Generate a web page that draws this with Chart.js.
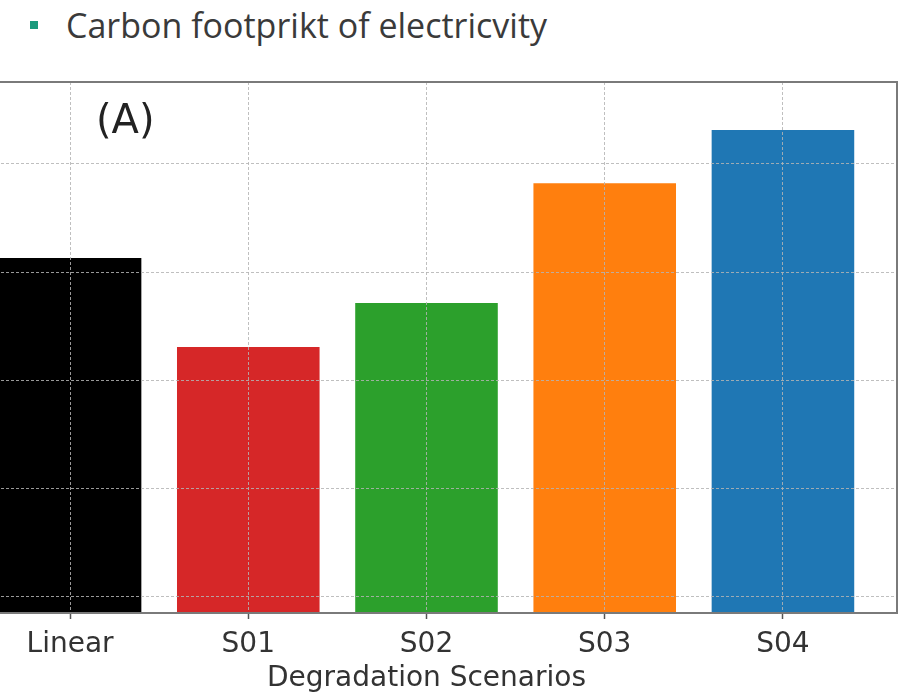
<!DOCTYPE html>
<html>
<head>
<meta charset="utf-8">
<script src="https://cdn.jsdelivr.net/npm/chart.js@4.4.1/dist/chart.umd.min.js"></script>
<style>
  html, body { margin: 0; padding: 0; background: #ffffff; }
  body { width: 914px; height: 694px; position: relative; overflow: hidden; }
  #heading {
    position: absolute; left: 66px; top: 1px;
    font-family: "Open Sans", "Noto Sans", sans-serif; font-size: 34px;
    color: #3a3a3a; white-space: nowrap; line-height: 48px;
  }
  #bullet {
    position: absolute; left: 30px; top: 21px; width: 8px; height: 8px;
    background: #1a9a7c;
  }
  #panel {
    position: absolute; left: 96px; top: 94px;
    font-family: "DejaVu Sans", sans-serif; font-size: 40px; color: #222;
    line-height: 50px; z-index: 2;
  }
  #wrap { position: absolute; left: -50px; top: 0; width: 964px; height: 694px; }
</style>
</head>
<body>
<div id="bullet"></div>
<div id="heading">Carbon footprikt of electricvity</div>
<div id="panel">(A)</div>
<div id="wrap"><canvas id="chart"></canvas></div>
<script>
// Degradation scenarios and their electricity carbon footprint
const scenarios = ["Linear", "S01", "S02", "S03", "S04"];
const footprint = [35.65, 31.54, 33.57, 39.11, 41.56];
const barColors = ["#000000", "#d62728", "#2ca02c", "#ff7f0e", "#1f77b4"];
const yGridValues = [20, 25, 30, 35, 40];
const xLabel = "Degradation Scenarios";

const gridColor = "rgba(180,180,180,0.85)";

// Draws the full box around the plot area (matplotlib-style spines)
const frame = {
  id: "frame",
  afterDraw(chart) {
    const { ctx, chartArea: a } = chart;
    ctx.save();
    ctx.strokeStyle = "#7a7a7a";
    ctx.lineWidth = 2;
    ctx.strokeRect(a.left, a.top, a.right - a.left, a.bottom - a.top);
    ctx.restore();
  }
};

new Chart(document.getElementById("chart"), {
  type: "bar",
  data: {
    datasets: [{
      data: scenarios.map((s, i) => ({ x: i, y: footprint[i] })),
      backgroundColor: barColors,
      borderWidth: 0,
      categoryPercentage: 0.8,
      barPercentage: 1.0
    }]
  },
  options: {
    responsive: true,
    maintainAspectRatio: false,
    animation: false,
    layout: { padding: { left: 6, right: 17, top: 82, bottom: 0 } },
    plugins: { legend: { display: false }, tooltip: { enabled: false } },
    scales: {
      x: {
        type: "linear",
        min: -0.64,
        max: 4.64,
        offset: false,
        afterBuildTicks: s => { s.ticks = scenarios.map((_, i) => ({ value: i })); },
        afterFit: s => { s.height = 81; },
        ticks: {
          callback: v => scenarios[v],
          font: { family: "DejaVu Sans", size: 28 },
          color: "#333333",
          padding: 9,
          maxRotation: 0,
          autoSkip: false
        },
        grid: {
          z: 1,
          offset: false,
          color: gridColor,
          lineWidth: 1,
          drawTicks: true,
          tickLength: 6,
          tickColor: "#555555",
          tickWidth: 1.5,
          tickBorderDash: []
        },
        border: { display: false, dash: [3, 2] },
        title: {
          display: true,
          text: xLabel,
          font: { family: "DejaVu Sans", size: 28 },
          color: "#333333",
          padding: { top: 0, bottom: -2 }
        }
      },
      y: {
        min: 19.26,
        max: 43.78,
        afterBuildTicks: s => { s.ticks = yGridValues.map(v => ({ value: v })); },
        afterFit: s => { s.width = 0; },
        ticks: { display: false },
        grid: {
          z: 1,
          color: gridColor,
          lineWidth: 1,
          drawTicks: false
        },
        border: { display: false, dash: [3, 2] }
      }
    }
  },
  plugins: [frame]
});
</script>
</body>
</html>
